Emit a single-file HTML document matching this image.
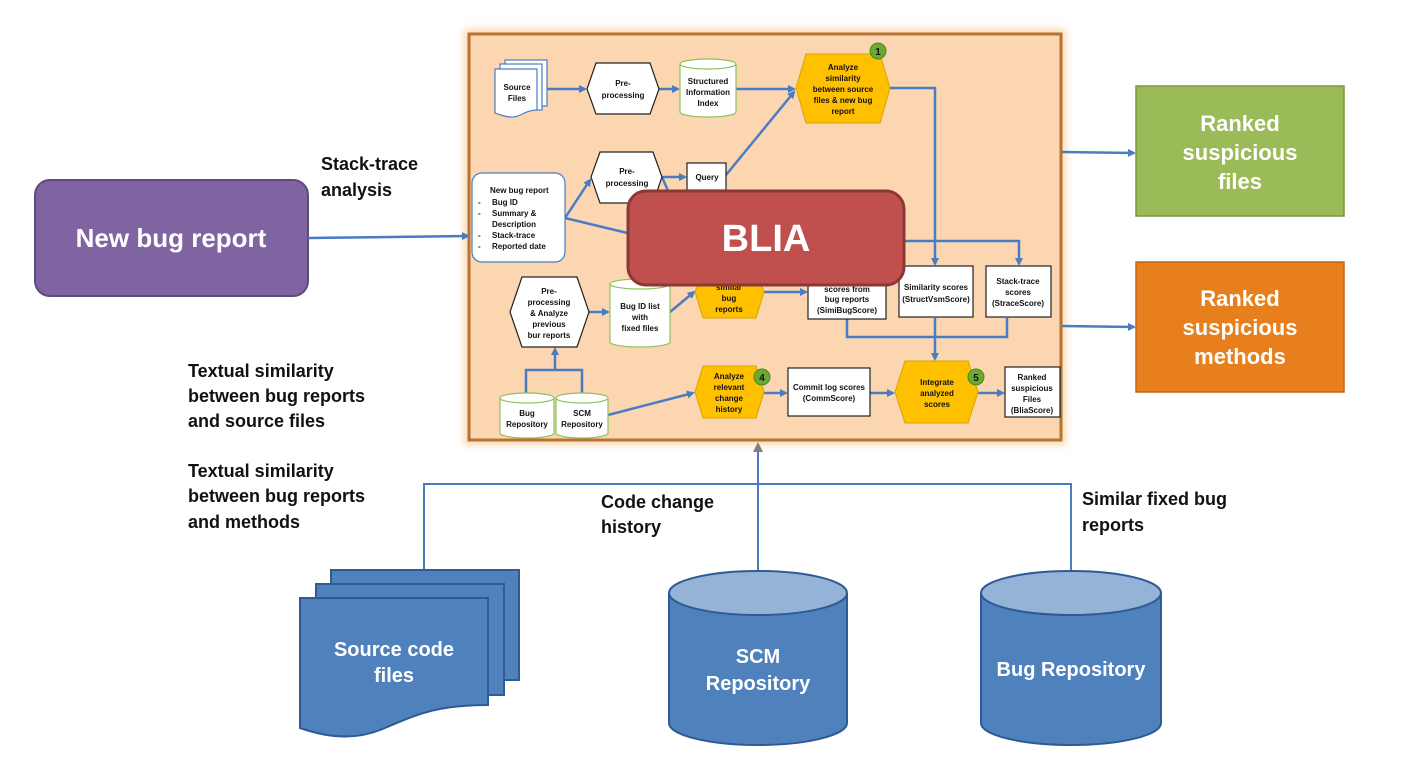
<!DOCTYPE html>
<html><head><meta charset="utf-8"><style>
html,body{margin:0;padding:0;background:#fff;}
svg{display:block;font-family:"Liberation Sans",sans-serif;font-weight:bold;}
</style></head><body>
<svg width="1408" height="764" viewBox="0 0 1408 764" xmlns="http://www.w3.org/2000/svg">
<defs>
<marker id="a" markerWidth="8" markerHeight="8" refX="6" refY="4" orient="auto" markerUnits="userSpaceOnUse"><path d="M0,0 L8,4 L0,8 z" fill="#4A7CC4"/></marker>
<marker id="g" markerWidth="10" markerHeight="10" refX="8" refY="5" orient="auto" markerUnits="userSpaceOnUse"><path d="M0,0 L10,5 L0,10 z" fill="#808080"/></marker>
<filter id="glow" x="-10%" y="-10%" width="120%" height="120%"><feGaussianBlur stdDeviation="4"/></filter>
</defs>

<!-- panel -->
<rect x="464" y="29" width="602" height="416" fill="#F9C98F" opacity="0.7" filter="url(#glow)"/>
<rect x="469" y="34" width="592" height="406" fill="#FBD6B0" stroke="#B87332" stroke-width="3"/>

<!-- left purple -->
<rect x="35" y="180" width="273" height="116" rx="15" fill="#8064A2" stroke="#5E4A7E" stroke-width="2"/>
<text x="171" y="247" font-size="26" fill="#fff" text-anchor="middle">New bug report</text>
<line x1="308" y1="238" x2="468" y2="236" stroke="#4A7CC4" stroke-width="2.5" marker-end="url(#a)"/>

<g font-size="18" fill="#111">
<text x="321" y="170">Stack-trace</text><text x="321" y="196">analysis</text>
<text x="188" y="377">Textual similarity</text><text x="188" y="402">between bug reports</text><text x="188" y="427">and source files</text>
<text x="188" y="477">Textual similarity</text><text x="188" y="502">between bug reports</text><text x="188" y="528">and methods</text>
<text x="601" y="508">Code change</text><text x="601" y="533">history</text>
<text x="1082" y="505">Similar fixed bug</text><text x="1082" y="531">reports</text>
</g>

<!-- right boxes -->
<line x1="1062" y1="152" x2="1134" y2="153" stroke="#4A7CC4" stroke-width="2.5" marker-end="url(#a)"/>
<line x1="1062" y1="326" x2="1134" y2="327" stroke="#4A7CC4" stroke-width="2.5" marker-end="url(#a)"/>
<rect x="1136" y="86" width="208" height="130" fill="#9BBB59" stroke="#7A9A40" stroke-width="1.5"/>
<g font-size="22" fill="#fff" text-anchor="middle">
<text x="1240" y="131">Ranked</text><text x="1240" y="160">suspicious</text><text x="1240" y="189">files</text>
</g>
<rect x="1136" y="262" width="208" height="130" fill="#E7801C" stroke="#C06510" stroke-width="1.5"/>
<g font-size="22" fill="#fff" text-anchor="middle">
<text x="1240" y="306">Ranked</text><text x="1240" y="335">suspicious</text><text x="1240" y="364">methods</text>
</g>

<!-- bottom connections -->
<polyline points="424,588 424,484 1071,484 1071,592" fill="none" stroke="#4A7CC4" stroke-width="2"/>
<line x1="758" y1="572" x2="758" y2="444" stroke="#4A7CC4" stroke-width="2" marker-end="url(#g)"/>

<!-- source code files -->
<g fill="#4F81BD" stroke="#2F5A94" stroke-width="2">
<rect x="331" y="570" width="188" height="110"/>
<rect x="316" y="584" width="188" height="111"/>
<path d="M300,598 L488,598 L488,705 C430,705 410,718 380,730 C350,742 320,735 300,728 Z"/>
</g>
<g font-size="20" fill="#fff" text-anchor="middle"><text x="394" y="656">Source code</text><text x="394" y="682">files</text></g>

<!-- cylinders -->
<g stroke="#2F5A94" stroke-width="2">
<path d="M669,593 L669,723 A89,22 0 0 0 847,723 L847,593" fill="#4F81BD"/>
<ellipse cx="758" cy="593" rx="89" ry="22" fill="#95B3D7"/>
<path d="M981,593 L981,723 A90,22 0 0 0 1161,723 L1161,593" fill="#4F81BD"/>
<ellipse cx="1071" cy="593" rx="90" ry="22" fill="#95B3D7"/>
</g>
<g font-size="20" fill="#fff" text-anchor="middle">
<text x="758" y="663">SCM</text><text x="758" y="690">Repository</text>
<text x="1071" y="676">Bug Repository</text>
</g>

<!-- inner diagram -->
<g stroke="#4A7CC4" stroke-width="2.5" fill="none">
<line x1="547" y1="89" x2="585" y2="89" marker-end="url(#a)"/>
<line x1="659" y1="89" x2="678" y2="89" marker-end="url(#a)"/>
<line x1="736" y1="89" x2="794" y2="89" marker-end="url(#a)"/>
<line x1="726" y1="175" x2="794" y2="92" marker-end="url(#a)"/>
<polyline points="890,88 935,88 935,264" marker-end="url(#a)"/>
<line x1="565" y1="218" x2="590" y2="180" marker-end="url(#a)"/>
<line x1="662" y1="177" x2="685" y2="177" marker-end="url(#a)"/>
<line x1="565" y1="218" x2="640" y2="236"/>
<line x1="662" y1="177" x2="672" y2="200"/>
<polyline points="904,241 1019,241 1019,264" marker-end="url(#a)"/>
<line x1="589" y1="312" x2="608" y2="312" marker-end="url(#a)"/>
<line x1="670" y1="312" x2="694" y2="292" marker-end="url(#a)"/>
<line x1="764" y1="292" x2="806" y2="292" marker-end="url(#a)"/>
<polyline points="847,319 847,337 1007,337 1007,318"/>
<line x1="935" y1="318" x2="935" y2="359" marker-end="url(#a)"/>
<polyline points="526,393 526,370 582,370 582,393"/>
<line x1="555" y1="370" x2="555" y2="349" marker-end="url(#a)"/>
<line x1="608" y1="415" x2="693" y2="393" marker-end="url(#a)"/>
<line x1="764" y1="393" x2="786" y2="393" marker-end="url(#a)"/>
<line x1="870" y1="393" x2="893" y2="393" marker-end="url(#a)"/>
<line x1="978" y1="393" x2="1003" y2="393" marker-end="url(#a)"/>
</g>

<!-- source files doc -->
<g fill="#fff" stroke="#4A7CC4" stroke-width="1.2">
<rect x="505" y="60" width="42" height="46"/>
<rect x="500" y="64" width="42" height="46"/>
<path d="M495,69 L537,69 L537,110 C525,110 520,118 510,117 C503,116 498,114 495,113 Z"/>
</g>
<!-- hexagons white -->
<g fill="#fff" stroke="#222" stroke-width="1.2">
<polygon points="596,63 650,63 659,89 650,114 596,114 587,89"/>
<polygon points="600,152 653,152 662,177 653,203 600,203 591,177"/>
<polygon points="522,277 577,277 589,312 577,347 522,347 510,312"/>
<rect x="687" y="163" width="39" height="27"/>
<rect x="808" y="268" width="78" height="51"/>
<rect x="899" y="266" width="74" height="51"/>
<rect x="986" y="266" width="65" height="51"/>
<rect x="788" y="368" width="82" height="48"/>
<rect x="1005" y="367" width="55" height="50"/>
</g>
<!-- green cylinders -->
<g fill="#fff" stroke="#8DC060" stroke-width="1.2">
<path d="M680,64 L680,112 A28,5 0 0 0 736,112 L736,64"/><ellipse cx="708" cy="64" rx="28" ry="5"/>
<path d="M610,284 L610,342 A30,5 0 0 0 670,342 L670,284"/><ellipse cx="640" cy="284" rx="30" ry="5"/>
<path d="M500,398 L500,433 A27,5 0 0 0 554,433 L554,398"/><ellipse cx="527" cy="398" rx="27" ry="5"/>
<path d="M556,398 L556,433 A26,5 0 0 0 608,433 L608,398"/><ellipse cx="582" cy="398" rx="26" ry="5"/>
</g>
<!-- bug report box -->
<rect x="472" y="173" width="93" height="89" rx="10" fill="#fff" stroke="#4A7CC4" stroke-width="1.2"/>
<!-- orange hexes -->
<g fill="#FFC000" stroke="#D9A300" stroke-width="1">
<polygon points="806,54 880,54 890,88 880,123 806,123 796,88"/>
<polygon points="703,270 756,270 764,292 756,318 703,318 695,292"/>
<polygon points="703,366 756,366 764,392 756,418 703,418 695,392"/>
<polygon points="905,361 968,361 978,392 968,423 905,423 895,392"/>
</g>
<g fill="#6AAA32" stroke="#4E8A20" stroke-width="1">
<circle cx="878" cy="51" r="8"/><circle cx="762" cy="377" r="8"/><circle cx="976" cy="377" r="8"/>
</g>
<g font-size="10" fill="#111" text-anchor="middle">
<text x="878" y="55">1</text><text x="762" y="381">4</text><text x="976" y="381">5</text>
</g>
<g font-size="8" fill="#111" text-anchor="middle">
<text x="517" y="90">Source</text><text x="517" y="101">Files</text>
<text x="623" y="86">Pre-</text><text x="623" y="98">processing</text>
<text x="708" y="84">Structured</text><text x="708" y="95">Information</text><text x="708" y="106">Index</text>
<text x="843" y="70">Analyze</text><text x="843" y="81">similarity</text><text x="843" y="92">between source</text><text x="843" y="103">files &amp; new bug</text><text x="843" y="114">report</text>
<text x="627" y="174">Pre-</text><text x="627" y="186">processing</text>
<text x="707" y="180">Query</text>
<text x="549" y="294">Pre-</text><text x="549" y="305">processing</text><text x="549" y="316">&amp; Analyze</text><text x="549" y="327">previous</text><text x="549" y="338">bur reports</text>
<text x="640" y="309">Bug ID list</text><text x="640" y="320">with</text><text x="640" y="331">fixed files</text>
<text x="729" y="290">similar</text><text x="729" y="301">bug</text><text x="729" y="312">reports</text>
<text x="847" y="292">scores from</text><text x="847" y="302">bug reports</text><text x="847" y="313">(SimiBugScore)</text>
<text x="936" y="290">Similarity scores</text><text x="936" y="302">(StructVsmScore)</text>
<text x="1018" y="284">Stack-trace</text><text x="1018" y="295">scores</text><text x="1018" y="306">(StraceScore)</text>
<text x="527" y="416">Bug</text><text x="527" y="427">Repository</text>
<text x="582" y="416">SCM</text><text x="582" y="427">Repository</text>
<text x="729" y="379">Analyze</text><text x="729" y="390">relevant</text><text x="729" y="401">change</text><text x="729" y="412">history</text>
<text x="829" y="390">Commit log scores</text><text x="829" y="401">(CommScore)</text>
<text x="937" y="385">Integrate</text><text x="937" y="396">analyzed</text><text x="937" y="407">scores</text>
<text x="1032" y="380">Ranked</text><text x="1032" y="391">suspicious</text><text x="1032" y="402">Files</text><text x="1032" y="413">(BliaScore)</text>
</g>
<g font-size="8" fill="#111">
<text x="490" y="193">New bug report</text>
<text x="478" y="205">-</text><text x="492" y="205">Bug ID</text>
<text x="478" y="216">-</text><text x="492" y="216">Summary &amp;</text>
<text x="492" y="227">Description</text>
<text x="478" y="238">-</text><text x="492" y="238">Stack-trace</text>
<text x="478" y="249">-</text><text x="492" y="249">Reported date</text>
</g>

<!-- BLIA -->
<rect x="628" y="191" width="276" height="94" rx="18" fill="#C0504D" stroke="#8C3836" stroke-width="3"/>
<text x="766" y="251" font-size="38" fill="#fff" text-anchor="middle">BLIA</text>
</svg>
</body></html>
